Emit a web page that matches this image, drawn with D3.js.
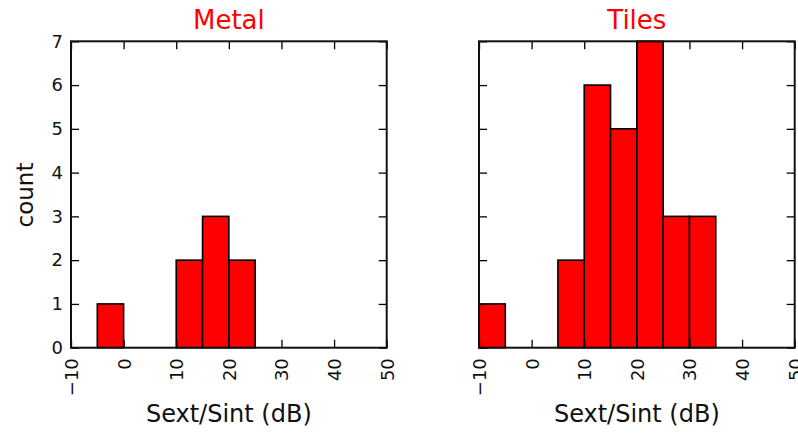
<!DOCTYPE html>
<html>
<head>
<meta charset="utf-8">
<script src="https://cdn.jsdelivr.net/npm/d3@7/dist/d3.min.js"></script>
<style>
  body { margin: 0; background: #fff; }
  text { font-family: "DejaVu Sans", sans-serif; }
</style>
</head>
<body>
<script>
// histogram data, bins of 5 dB starting at -10
var binStart = -10
var binWidth = 5
var metalCounts = [0, 1, 0, 0, 2, 3, 2]
var tilesCounts = [1, 0, 0, 2, 6, 5, 7, 3, 3]
var panelTitles = ["Metal", "Tiles"]
var xTicks = [-10, 0, 10, 20, 30, 40, 50]
var yTicks = [0, 1, 2, 3, 4, 5, 6, 7]

var outerWidth = 798,
  outerHeight = 433,
  plotTop = 41.3,
  width = 315.7,
  height = 306.4,
  lefts = [71, 479];

var svg = d3.select("body").append("svg")
    .attr("width", outerWidth)
    .attr("height", outerHeight);

var xScale = d3.scaleLinear().domain([-10, 50]).range([0, width]);
var yScale = d3.scaleLinear().domain([0, 7]).range([height, 0]);

function makeBins(counts) {
  return counts.map(function(c, i) {
    return {x0: binStart + i * binWidth, x1: binStart + (i + 1) * binWidth, n: c};
  });
}

function drawPanel(idx, counts) {
  var g = svg.append("g")
      .attr("transform", "translate(" + lefts[idx] + "," + plotTop + ")");

  g.selectAll("rect.bar")
    .data(makeBins(counts))
    .enter()
    .append("rect")
    .attr("class", "bar")
    .attr("x", function(d) { return xScale(d.x0); })
    .attr("y", function(d) { return yScale(d.n); })
    .attr("width", function(d) { return xScale(d.x1) - xScale(d.x0); })
    .attr("height", function(d) { return yScale(0) - yScale(d.n); })
    .style("fill", "#ff0000")
    .style("stroke", "#000")
    .style("stroke-width", 1.6);

  // ticks inside on all four sides
  var xb = g.append("g")
      .attr("transform", "translate(0," + height + ")")
      .call(d3.axisBottom(xScale).tickValues(xTicks).tickSize(-8).tickFormat(d3.format("")));
  xb.selectAll("text")
    .attr("transform", "rotate(-90)")
    .attr("x", -10.5)
    .attr("y", 0)
    .attr("dy", "0.36em")
    .style("text-anchor", "end");

  g.append("g")
      .call(d3.axisTop(xScale).tickValues(xTicks).tickSize(-8).tickFormat(""));

  var yl = g.append("g")
      .call(d3.axisLeft(yScale).tickValues(yTicks).tickSize(-8).tickPadding(8).tickFormat(d3.format("d")));
  if (idx == 1) yl.selectAll("text").remove();

  g.append("g")
      .attr("transform", "translate(" + width + ",0)")
      .call(d3.axisRight(yScale).tickValues(yTicks).tickSize(-8).tickFormat(""));

  g.selectAll(".domain").remove();
  g.selectAll(".tick line").style("stroke", "#000").style("stroke-width", 1.3);
  g.selectAll(".tick text").style("font-size", "18px").style("fill", "#111");

  g.append("rect")
    .attr("width", width)
    .attr("height", height)
    .style("fill", "none")
    .style("stroke", "#111")
    .style("stroke-width", 2);

  svg.append("text")
    .attr("x", lefts[idx] + width / 2)
    .attr("y", 28.5)
    .text(panelTitles[idx])
    .style("text-anchor", "middle")
    .style("font-size", "26px")
    .style("fill", "#ff0000");

  svg.append("text")
    .attr("x", lefts[idx] + width / 2)
    .attr("y", 422)
    .text("Sext/Sint (dB)")
    .style("text-anchor", "middle")
    .style("font-size", "24px")
    .style("fill", "#111");
}

drawPanel(0, metalCounts)
drawPanel(1, tilesCounts)

svg.append("text")
  .attr("transform", "translate(33,195) rotate(-90)")
  .text("count")
  .style("text-anchor", "middle")
  .style("font-size", "23px")
  .style("fill", "#111");
</script>
</body>
</html>
